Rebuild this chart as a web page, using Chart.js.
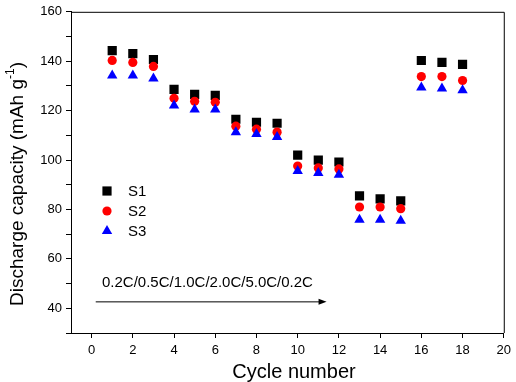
<!DOCTYPE html>
<html>
<head>
<meta charset="utf-8">
<script src="https://cdn.jsdelivr.net/npm/chart.js@4"></script>
<style>
  html, body { margin: 0; padding: 0; background: #fff; }
  #wrap { width: 516px; height: 382px; }
</style>
</head>
<body>
<div id="wrap"><canvas id="chartRate"></canvas></div>
<script>
const cycles = [1, 2, 3, 4, 5, 6, 7, 8, 9, 10, 11, 12, 13, 14, 15, 16, 17, 18];
const s1 = [144.3, 143.1, 140.7, 128.6, 126.6, 126.2, 116.5, 115.3, 114.9, 102.0, 100.0, 99.2, 85.5, 84.3, 83.5, 140.3, 139.5, 138.7];
const s2 = [140.3, 139.5, 137.9, 125.0, 123.8, 123.4, 113.7, 112.5, 111.3, 97.6, 96.8, 96.4, 81.0, 81.0, 80.3, 133.8, 133.8, 132.2];
const s3 = [134.2, 134.2, 133.0, 122.1, 120.5, 120.5, 111.3, 110.5, 109.3, 95.6, 94.8, 94.0, 75.8, 75.8, 75.4, 129.4, 129.0, 128.2];
const seriesLabels = ['S1', 'S2', 'S3'];
const xTicks = [0, 2, 4, 6, 8, 10, 12, 14, 16, 18, 20];
const yTicks = [30, 40, 50, 60, 70, 80, 90, 100, 110, 120, 130, 140, 150, 160];
const rateNote = '0.2C/0.5C/1.0C/2.0C/5.0C/0.2C';
const xTitle = 'Cycle number';
const yTitle = 'Discharge capacity (mAh g';

const FONT = 'Arial, "Liberation Sans", sans-serif';

const toPoints = (vals) => cycles.map((c, i) => ({ x: c, y: vals[i] }));

// frame, titles, legend and the rate arrow
const extras = {
  id: 'extras',
  afterDraw(chart) {
    const { ctx, chartArea: a, scales } = chart;
    ctx.save();
    ctx.strokeStyle = '#000';
    ctx.lineWidth = 1;
    ctx.beginPath();
    ctx.moveTo(a.left, a.top + 0.5);
    ctx.lineTo(a.right + 0.5, a.top + 0.5);
    ctx.lineTo(a.right + 0.5, a.bottom);
    ctx.stroke();

    // axis titles
    ctx.fillStyle = '#000';
    ctx.font = '20px ' + FONT;
    ctx.textAlign = 'center';
    ctx.textBaseline = 'middle';
    ctx.fillText(xTitle, 294, 372);

    ctx.save();
    ctx.translate(18, 184);
    ctx.rotate(-Math.PI / 2);
    ctx.font = '19px ' + FONT;
    const w1 = ctx.measureText(yTitle).width;
    ctx.font = '12px ' + FONT;
    const w2 = ctx.measureText('-1').width;
    ctx.font = '19px ' + FONT;
    const w3 = ctx.measureText(')').width;
    let x = -(w1 + w2 + w3) / 2;
    ctx.textAlign = 'left';
    ctx.fillText(yTitle, x, 0);
    x += w1;
    ctx.font = '12px ' + FONT;
    ctx.fillText('-1', x, -7);
    x += w2;
    ctx.font = '19px ' + FONT;
    ctx.fillText(')', x, 0);
    ctx.restore();

    // legend
    ctx.textAlign = 'left';
    ctx.font = '15px ' + FONT;
    chart.data.datasets.forEach((ds, i) => {
      const y = 191 + i * 20;
      ctx.fillStyle = ds.backgroundColor;
      Chart.helpers.drawPoint(ctx, {
        pointStyle: ds.pointStyle,
        radius: ds.pointRadius,
        borderWidth: 0,
      }, 107, y);
      ctx.fillStyle = '#000';
      ctx.fillText(ds.label, 128, y + 1);
    });

    // rate note + arrow
    const x0 = scales.x.getPixelForValue(0.2);
    const x1 = scales.x.getPixelForValue(11.4);
    const ya = scales.y.getPixelForValue(42.8);
    ctx.font = '15px ' + FONT;
    ctx.fillText(rateNote, 102, 283);
    ctx.beginPath();
    ctx.moveTo(x0, ya + 0.5);
    ctx.lineTo(x1 - 6, ya + 0.5);
    ctx.stroke();
    ctx.beginPath();
    ctx.moveTo(x1, ya + 0.5);
    ctx.lineTo(x1 - 8, ya - 2.5);
    ctx.lineTo(x1 - 8, ya + 3.5);
    ctx.closePath();
    ctx.fill();
    ctx.restore();
  },
};

const config = {
  type: 'scatter',
  data: {
    datasets: [
      { label: seriesLabels[0], data: toPoints(s1), pointStyle: 'rect', pointRadius: 6.5, backgroundColor: '#000000', borderWidth: 0, order: 2 },
      { label: seriesLabels[1], data: toPoints(s2), pointStyle: 'circle', pointRadius: 4.6, backgroundColor: '#ff0000', borderWidth: 0, order: 1 },
      { label: seriesLabels[2], data: toPoints(s3), pointStyle: 'triangle', pointRadius: 6, backgroundColor: '#0000ff', borderWidth: 0, order: 0 },
    ],
  },
  options: {
    responsive: true,
    maintainAspectRatio: false,
    animation: false,
    events: [],
    layout: { padding: { top: 9, right: 9, left: 0, bottom: 0 } },
    plugins: {
      legend: { display: false },
      tooltip: { enabled: false },
    },
    scales: {
      x: {
        type: 'linear',
        min: -1,
        max: 20,
        afterBuildTicks: (s) => { s.ticks = xTicks.map((v) => ({ value: v })); },
        afterFit: (s) => { s.height = 49; },
        border: { display: true, color: '#000', width: 1 },
        grid: { drawOnChartArea: false, drawTicks: true, tickLength: 5, color: '#000' },
        ticks: { color: '#000', font: { family: FONT, size: 13 }, padding: 5, maxRotation: 0 },
      },
      y: {
        type: 'linear',
        min: 30,
        max: 160,
        afterBuildTicks: (s) => { s.ticks = yTicks.map((v) => ({ value: v })); },
        afterFit: (s) => { s.width = 71; },
        border: { display: true, color: '#000', width: 1 },
        grid: { drawOnChartArea: false, drawTicks: true, tickLength: 5, color: '#000' },
        ticks: {
          color: '#000',
          font: { family: FONT, size: 13 },
          padding: 4,
          callback: (v) => (v % 20 === 0 && v >= 40 ? v : ''),
        },
      },
    },
  },
  plugins: [extras],
};

new Chart(document.querySelector('#chartRate'), config);
</script>
</body>
</html>
